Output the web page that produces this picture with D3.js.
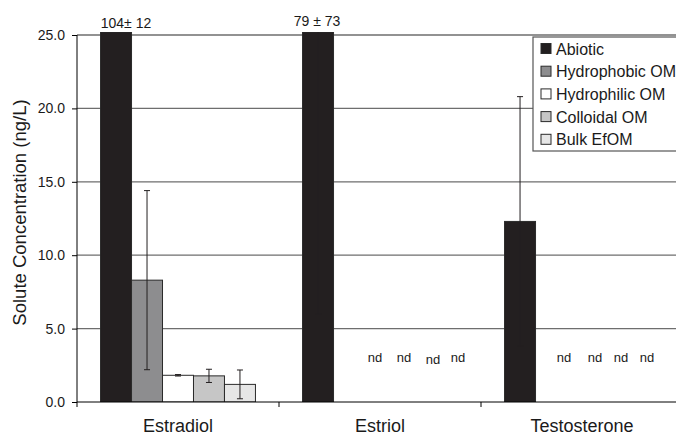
<!DOCTYPE html>
<html>
<head>
<meta charset="utf-8">
<script src="https://cdn.jsdelivr.net/npm/d3@7"></script>
<style>
  html, body { margin: 0; padding: 0; background: #fff; overflow: hidden; }
  svg { display: block; font-family: "Liberation Sans", Arial, Helvetica, sans-serif; }
</style>
</head>
<body>
<svg id="chart" width="676" height="436"></svg>
<script>
// Steroid hormone concentrations by organic matter fraction
const categories = ["Estradiol", "Estriol", "Testosterone"];
const series = ["Abiotic", "Hydrophobic OM", "Hydrophilic OM", "Colloidal OM", "Bulk EfOM"];
const seriesColors = ["#231f20", "#8d8d8f", "#ffffff", "#c6c6c6", "#e6e6e6"];

// mean values (ng/L); null = not detected
const abiotic       = [104, 79, 12.3];
const hydrophobicOM = [8.3, null, null];
const hydrophilicOM = [1.82, null, null];
const colloidalOM   = [1.78, null, null];
const bulkEfOM      = [1.2, null, null];

// standard deviations
const abioticErr       = [12, 73, 8.5];
const hydrophobicOMErr = [6.1, null, null];
const hydrophilicOMErr = [0.05, null, null];
const colloidalOMErr   = [0.45, null, null];
const bulkEfOMErr      = [0.98, null, null];

// off-scale values written above the clipped bars
const offScaleLabels = ["104\u00b1 12", "79 \u00b1 73", null];

const yTicks = [0, 5, 10, 15, 20, 25];
const yLabel = "Solute Concentration (ng/L)";
const ndText = "nd";

const values = [abiotic, hydrophobicOM, hydrophilicOM, colloidalOM, bulkEfOM];
const errors = [abioticErr, hydrophobicOMErr, hydrophilicOMErr, colloidalOMErr, bulkEfOMErr];

const rows = [];
categories.forEach((c, ci) => {
  series.forEach((s, si) => {
    rows.push({ cat: c, ci, ser: s, si, v: values[si][ci], e: errors[si][ci] });
  });
});

const svg = d3.select("#chart");
const plot = { left: 77, right: 683, top: 35, bottom: 402 };

const x0 = d3.scaleBand().domain(categories).range([plot.left, plot.right]);
const x1 = d3.scaleBand().domain(series).range([0, x0.bandwidth()]).paddingOuter(0.76);
const y = d3.scaleLinear().domain([0, 25]).range([plot.bottom, plot.top]);
const color = d3.scaleOrdinal().domain(series).range(seriesColors);

svg.append("defs").append("clipPath").attr("id", "plotClip")
  .append("rect")
  .attr("x", plot.left).attr("y", plot.top - 3)
  .attr("width", plot.right - plot.left).attr("height", plot.bottom - plot.top + 3);

// horizontal gridlines
svg.append("g").selectAll("line")
  .data(yTicks.filter(t => t > 0))
  .join("line")
  .attr("x1", plot.left).attr("x2", plot.right)
  .attr("y1", d => y(d)).attr("y2", d => y(d))
  .attr("stroke", "#6e6e6e").attr("stroke-width", 1.3);

// bars
const barsG = svg.append("g").attr("clip-path", "url(#plotClip)");
barsG.selectAll("rect")
  .data(rows.filter(d => d.v != null))
  .join("rect")
  .attr("x", d => x0(d.cat) + x1(d.ser))
  .attr("width", x1.bandwidth())
  .attr("y", d => Math.max(y(d.v), plot.top - 3))
  .attr("height", d => plot.bottom - Math.max(y(d.v), plot.top - 3))
  .attr("fill", d => color(d.ser))
  .attr("stroke", "#2a2a2a").attr("stroke-width", 1);

// error bars
const errG = svg.append("g").attr("clip-path", "url(#plotClip)")
  .attr("stroke", "#231f20").attr("stroke-width", 1);
rows.filter(d => d.v != null && d.e != null && d.v - d.e < 25).forEach(d => {
  const cx = x0(d.cat) + x1(d.ser) + x1.bandwidth() / 2;
  const yHi = y(d.v + d.e), yLo = y(d.v - d.e);
  errG.append("line").attr("x1", cx).attr("x2", cx).attr("y1", yHi).attr("y2", yLo);
  errG.append("line").attr("x1", cx - 3).attr("x2", cx + 3).attr("y1", yHi).attr("y2", yHi);
  errG.append("line").attr("x1", cx - 3).attr("x2", cx + 3).attr("y1", yLo).attr("y2", yLo);
});

// axes
const yAxis = svg.append("g")
  .attr("transform", `translate(${plot.left},0)`)
  .call(d3.axisLeft(y).tickValues(yTicks).tickFormat(d3.format(".1f")).tickSize(5).tickPadding(7));
yAxis.select(".domain").attr("stroke", "#000").attr("d", `M0,${plot.top}V${plot.bottom}`);
yAxis.selectAll(".tick line").attr("stroke", "#000");
yAxis.selectAll("text").attr("font-size", 14).attr("fill", "#1a1a1a")
  .attr("font-family", "Liberation Sans, Arial, sans-serif");

const xAxisG = svg.append("g");
xAxisG.append("line")
  .attr("x1", plot.left).attr("x2", plot.right)
  .attr("y1", plot.bottom).attr("y2", plot.bottom)
  .attr("stroke", "#000");
xAxisG.selectAll("line.tick")
  .data(categories.map(c => x0(c)).concat([plot.right]))
  .join("line").attr("class", "tick")
  .attr("x1", d => d).attr("x2", d => d)
  .attr("y1", plot.bottom).attr("y2", plot.bottom + 5)
  .attr("stroke", "#000");
xAxisG.selectAll("text")
  .data(categories)
  .join("text")
  .attr("x", d => x0(d) + x0.bandwidth() / 2)
  .attr("y", 432)
  .attr("text-anchor", "middle")
  .attr("font-size", 18)
  .attr("fill", "#1a1a1a")
  .text(d => d);

// y axis title
svg.append("text")
  .attr("transform", `translate(26,${(96 + 329) / 2}) rotate(-90)`)
  .attr("text-anchor", "middle")
  .attr("font-size", 18.5)
  .attr("fill", "#1a1a1a")
  .text(yLabel);

// values of off-scale bars
svg.append("g").selectAll("text")
  .data(categories.map((c, i) => ({ c, t: offScaleLabels[i] })).filter(d => d.t))
  .join("text")
  .attr("x", d => x0(d.c) + x1("Abiotic") + x1.bandwidth() / 2)
  .attr("dx", (d, i) => [10, -1][i])
  .attr("y", (d, i) => [28, 26][i])
  .attr("text-anchor", "middle")
  .attr("font-size", 14)
  .attr("fill", "#1a1a1a")
  .text(d => d.t);

// "not detected" markers
const ndShift = { "Estriol": [26, 24, 22, 16], "Testosterone": [13, 13, 8, 3] };
const ndDrop = { "Estriol": [0, 0, 2, 0], "Testosterone": [0, 0, 0, 0] };
svg.append("g").selectAll("text")
  .data(rows.filter(d => d.v == null))
  .join("text")
  .attr("x", d => x0(d.cat) + x1(d.ser) + x1.bandwidth() / 2 + ndShift[d.cat][d.si - 1])
  .attr("y", d => 362 + ndDrop[d.cat][d.si - 1])
  .attr("text-anchor", "middle")
  .attr("font-size", 13)
  .attr("fill", "#1a1a1a")
  .text(ndText);

// legend
const legend = svg.append("g").attr("transform", "translate(533,37)");
legend.append("rect")
  .attr("x", 0).attr("y", 0).attr("width", 160).attr("height", 114)
  .attr("fill", "#fff").attr("stroke", "#555").attr("stroke-width", 1.2);
const li = legend.selectAll("g.item").data(series).join("g")
  .attr("class", "item")
  .attr("transform", (d, i) => `translate(0,${12 + i * 22.7})`);
li.append("rect")
  .attr("x", 8).attr("y", -5.5).attr("width", 10).attr("height", 10)
  .attr("fill", d => color(d)).attr("stroke", "#2a2a2a").attr("stroke-width", 1);
li.append("text")
  .attr("x", 23).attr("y", 5.5)
  .attr("font-size", 16)
  .attr("fill", "#1a1a1a")
  .text(d => d);
</script>
</body>
</html>
